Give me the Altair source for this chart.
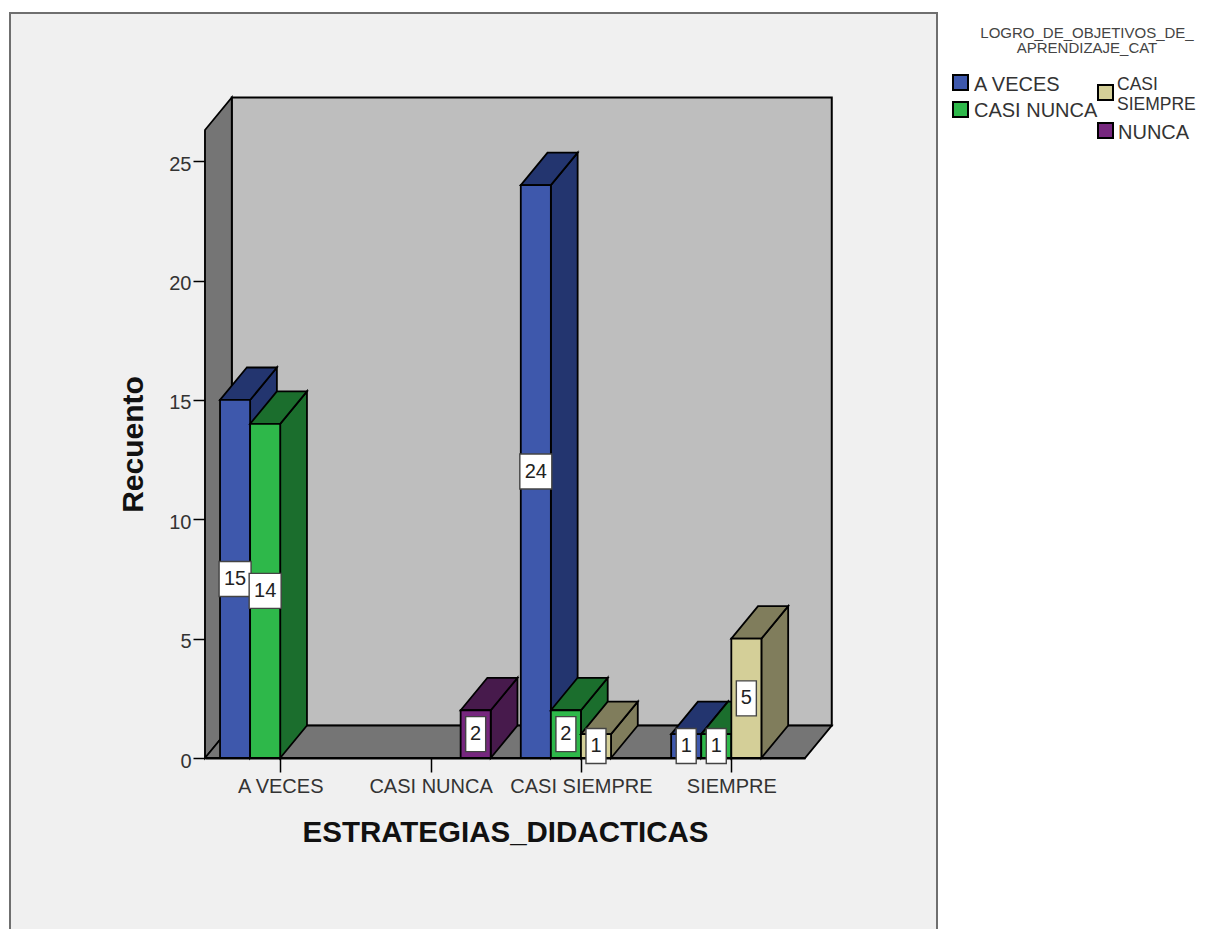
import altair as alt
import pandas as pd
import json

categories = ["A VECES", "CASI NUNCA", "CASI SIEMPRE", "SIEMPRE"]
series = ["A VECES", "CASI NUNCA", "CASI SIEMPRE", "NUNCA"]
a_veces = [15, 0, 24, 1]
casi_nunca = [14, 0, 2, 1]
casi_siempre = [0, 0, 1, 5]
nunca = [0, 2, 0, 0]
counts = [a_veces, casi_nunca, casi_siempre, nunca]
legend_title = ["LOGRO_DE_OBJETIVOS_DE_", "APRENDIZAJE_CAT"]

front = ["#3e58ac", "#2eb84a", "#d4cf98", "#76277e"]
shade = ["#23356f", "#1b6e2d", "#807d5c", "#471a4c"]

DX, DY = 0.89, 1.36
SLOTS = 5
X0, X1 = -0.5, 19.45
Y1 = 26.31
xs = alt.Scale(domain=[X0, X1], nice=False, zero=False)
ys = alt.Scale(domain=[0, Y1], nice=False, zero=False)
INK = "#000000"
FONT = "Liberation Sans"
LEFT, TOP = 205, 130  # page pixels of the plot area's corner

x_label = "[" + ",".join(json.dumps(c) for c in categories) + "][floor(datum.value/%d)]" % SLOTS
x_axis = alt.Axis(values=[SLOTS * i + 2 for i in range(4)], labelExpr=x_label, title="ESTRATEGIAS_DIDACTICAS",
                  titleFont=FONT, titleFontSize=29.5, titleFontWeight="bold", titleColor="#111111", titlePadding=22,
                  labelFont=FONT, labelFontSize=20, labelColor="#333333", labelPadding=4, tickSize=14, tickColor=INK,
                  tickWidth=1.5, domainColor=INK, domainWidth=2, grid=False, zindex=0, labelOverlap=False)
y_axis = alt.Axis(values=[0, 5, 10, 15, 20, 25], title="Recuento", titleFont=FONT, titleFontSize=30,
                  titleFontWeight="bold", titleColor="#111111", titlePadding=20, labelFont=FONT, labelFontSize=20,
                  labelColor="#333333", labelPadding=2, labelOffset=3, tickSize=12, tickColor=INK, tickWidth=1.5,
                  domainColor=INK, domainWidth=2, grid=False, zindex=0)
X = alt.X("x:Q", scale=xs, axis=x_axis)
Y = alt.Y("y:Q", scale=ys, axis=y_axis)
ONE = pd.DataFrame({"k": [0]})


def side_face(x, lo, hi, fill):
    df = pd.DataFrame({"x": [x, x + DX], "y": [lo, lo + DY], "y2": [hi, hi + DY]})
    return alt.Chart(df).mark_area(fill=fill, stroke=INK, strokeWidth=1.8, opacity=1).encode(
        x=X, y=alt.Y("y:Q", scale=ys, axis=y_axis, stack=None), y2="y2:Q")


def flat_face(x_a, x_b, lev, fill):
    df = pd.DataFrame({"x": [x_a, x_a + DX], "x2": [x_b, x_b + DX], "y": [lev, lev + DY]})
    return alt.Chart(df).mark_area(orient="horizontal", fill=fill, stroke=INK, strokeWidth=1.8, opacity=1).encode(
        y=Y, x=alt.X("x:Q", scale=xs, axis=x_axis, stack=None), x2="x2:Q")


def swatch(i, px, py):
    return alt.Chart(ONE).mark_rect(fill=front[i], stroke=INK, strokeWidth=2).encode(
        x=alt.value(px - LEFT), x2=alt.value(px + 15 - LEFT), y=alt.value(py - TOP), y2=alt.value(py + 15 - TOP))


def caption(t, px, py, size=20, align="left", color="#333333"):
    return alt.Chart(ONE).mark_text(text=t, font=FONT, fontSize=size, color=color, align=align,
                                    baseline="middle").encode(x=alt.value(px - LEFT), y=alt.value(py - TOP))


def page_rect(x0, x1, y0, y1, **style):
    return alt.Chart(ONE).mark_rect(**style).encode(
        x=alt.value(x0 - LEFT), x2=alt.value(x1 - LEFT), y=alt.value(y0 - TOP), y2=alt.value(y1 - TOP))


# the grey panel is the canvas background, so that the axes can stay beneath the bars
margins = [
    page_rect(938, 1200, 0, 940, fill="white"),
    page_rect(0, 940, 0, 12, fill="white"),
    page_rect(0, 9, 0, 940, fill="white"),
    page_rect(10, 937, 13, 942, fill="#f0f0f0", fillOpacity=0, stroke="#6f6f6f", strokeWidth=2),
]

wall_df = pd.DataFrame({"x": [X0 + DX], "x2": [X1 + DX], "y": [DY], "y2": [Y1 + DY]})
back_wall = alt.Chart(wall_df).mark_rect(fill="#bebebe", stroke=INK, strokeWidth=2).encode(
    x=X, x2="x2:Q", y=Y, y2="y2:Q")
left_wall = side_face(X0, 0, Y1, "#757575")
floor = flat_face(X0, X1, 0, "#757575")

layers = margins + [back_wall, left_wall, floor]
labels = []
for c in range(len(categories)):
    for s in range(len(series)):
        v = counts[s][c]
        if not v:
            continue
        x = SLOTS * c + s
        layers.append(side_face(x + 1, 0, v, shade[s]))
        layers.append(flat_face(x, x + 1, v, shade[s]))
        layers.append(
            alt.Chart(pd.DataFrame({"x": [x], "x2": [x + 1], "y": [0], "y2": [v], "serie": [series[s]]}))
            .mark_rect(stroke=INK, strokeWidth=1.8)
            .encode(x=X, x2="x2:Q", y=Y, y2="y2:Q",
                    fill=alt.Fill("serie:N", scale=alt.Scale(domain=series, range=front), legend=None)))
        labels.append({"x": x + 0.5, "y": v / 2, "t": str(v), "wide": v >= 10})

lab = pd.DataFrame(labels)
box_base = alt.Chart(lab)
narrow = box_base.transform_filter("!datum.wide").mark_rect(width=20, height=35, fill="white", stroke="#444444", strokeWidth=1.4).encode(x=X, y=Y)
wide = box_base.transform_filter("datum.wide").mark_rect(width=32, height=35, fill="white", stroke="#444444", strokeWidth=1.4).encode(x=X, y=Y)
text = box_base.mark_text(font=FONT, fontSize=20, color="#222222", align="center", baseline="middle").encode(x=X, y=Y, text="t:N")
layers += [narrow, wide, text]

# legend: two independently flowing columns, the second with a wrapped entry
layers += [
    caption(legend_title[0], 1087, 33, 15, "center", "#444444"),
    caption(legend_title[1], 1087, 48, 15, "center", "#444444"),
    swatch(0, 953, 75), caption(series[0], 974, 85),
    swatch(1, 953, 102), caption(series[1], 974, 111),
    swatch(2, 1098, 85), caption(series[2].split()[0], 1117, 85, 17.5), caption(series[2].split()[1], 1117, 105, 17.5),
    swatch(3, 1098, 123), caption(series[3], 1118, 133),
]

chart = alt.layer(*layers).properties(
    width=600, height=628,
    padding={"left": 197, "top": 122, "right": 392, "bottom": 171},
    autosize=alt.AutoSizeParams(type="none"),
    background="#f0f0f0",
).configure_view(stroke=None)

chart.save("out.html", embed_options={"renderer": "svg", "actions": False})
